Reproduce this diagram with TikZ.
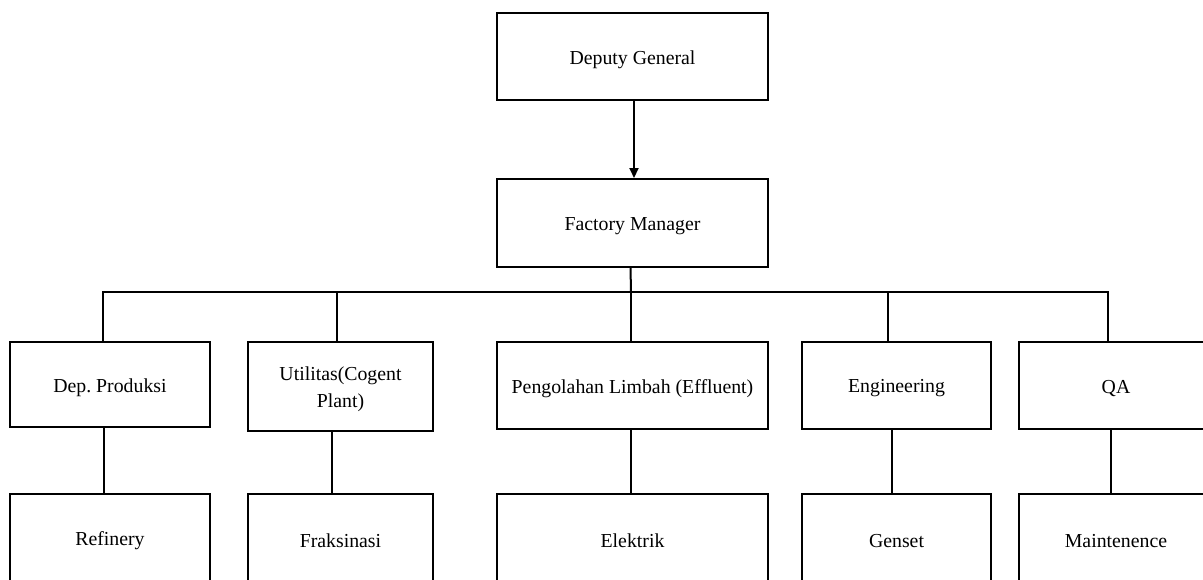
\documentclass[tikz,border=0pt]{standalone}
\usepackage{fontspec}
\setmainfont{Liberation Serif}
\usetikzlibrary{arrows.meta}
\newcommand\lowertxt[1]{\raisebox{-1.5pt}[\height][\depth]{#1}}
\frenchspacing
\begin{document}
\begin{tikzpicture}[x=0.5pt,y=-0.5pt,
  box/.style={draw,line width=1pt,inner sep=0pt,anchor=center,align=center,
    font=\fontsize{9.9pt}{13.5pt}\selectfont},
  conn/.style={line width=1pt},
  arr/.style={line width=1pt,-{Triangle[width=4.5pt,length=5pt]}}]
\useasboundingbox (0,0) rectangle (1203,579);
\clip (0,0) rectangle (1203,579);
% top levels
\node[box,minimum width=135.5pt,minimum height=43.5pt] (dg) at (632.5,56.5) {\lowertxt{Deputy General}};
\node[box,minimum width=135.5pt,minimum height=44pt] (fm) at (632.5,223) {\lowertxt{Factory Manager}};
% level 2
\node[box,minimum width=100pt,minimum height=42.5pt] (dp) at (110,384.5) {\lowertxt{Dep. Produksi}};
\node[box,minimum width=92.5pt,minimum height=44.5pt] (ut) at (340.5,386.5) {\lowertxt{Utilitas(Cogent}\\\lowertxt{Plant)}};
\node[box,minimum width=135.5pt,minimum height=43.5pt] (pl) at (632.5,385.5) {\lowertxt{Pengolahan Limbah (Effluent)}};
\node[box,minimum width=94.5pt,minimum height=43.5pt] (en) at (896.5,385.5) {\lowertxt{Engineering}};
\node[box,minimum width=97pt,minimum height=43.5pt] (qa) at (1116,385.5) {\lowertxt{QA}};
% level 3
\node[box,minimum width=100pt,minimum height=44pt] (rf) at (110,538) {\lowertxt{Refinery}};
\node[box,minimum width=92.5pt,minimum height=44pt] (fr) at (340.5,538) {\lowertxt{Fraksinasi}};
\node[box,minimum width=135.5pt,minimum height=44pt] (el) at (632.5,538) {\lowertxt{Elektrik}};
\node[box,minimum width=94.5pt,minimum height=44pt] (gs) at (896.5,538) {\lowertxt{Genset}};
\node[box,minimum width=97pt,minimum height=44pt] (mt) at (1116,538) {\lowertxt{Maintenence}};
% connectors
\draw[arr] ([xshift=0.75pt]dg.south) -- ([xshift=0.75pt]fm.north);
\coordinate (busL) at (103,292);
\coordinate (busR) at (1108,292);
\coordinate (busM) at (631,292);
\draw[conn] ([xshift=-1pt]fm.south) -- (busM);
\draw[conn] ([xshift=-3.5pt]dp.north) -- (busL) -- (busR) -- ([xshift=-4pt]qa.north);
\draw[conn] ([xshift=-1.75pt]ut.north) -- ([xshift=-1.75pt]ut.north |- busL);
\draw[conn] ([xshift=-1pt]pl.north) -- ([xshift=-1pt]pl.north |- busL);
\draw[conn] ([xshift=-4.25pt]en.north) -- ([xshift=-4.25pt]en.north |- busL);
% level 2 to 3
\draw[conn] ([xshift=-3pt]dp.south) -- ([xshift=-3pt]rf.north);
\draw[conn] ([xshift=-4.25pt]ut.south) -- ([xshift=-4.25pt]fr.north);
\draw[conn] ([xshift=-1pt]pl.south) -- ([xshift=-1pt]el.north);
\draw[conn] ([xshift=-2.25pt]en.south) -- ([xshift=-2.25pt]gs.north);
\draw[conn] ([xshift=-2.5pt]qa.south) -- ([xshift=-2.5pt]mt.north);
\end{tikzpicture}
\end{document}
